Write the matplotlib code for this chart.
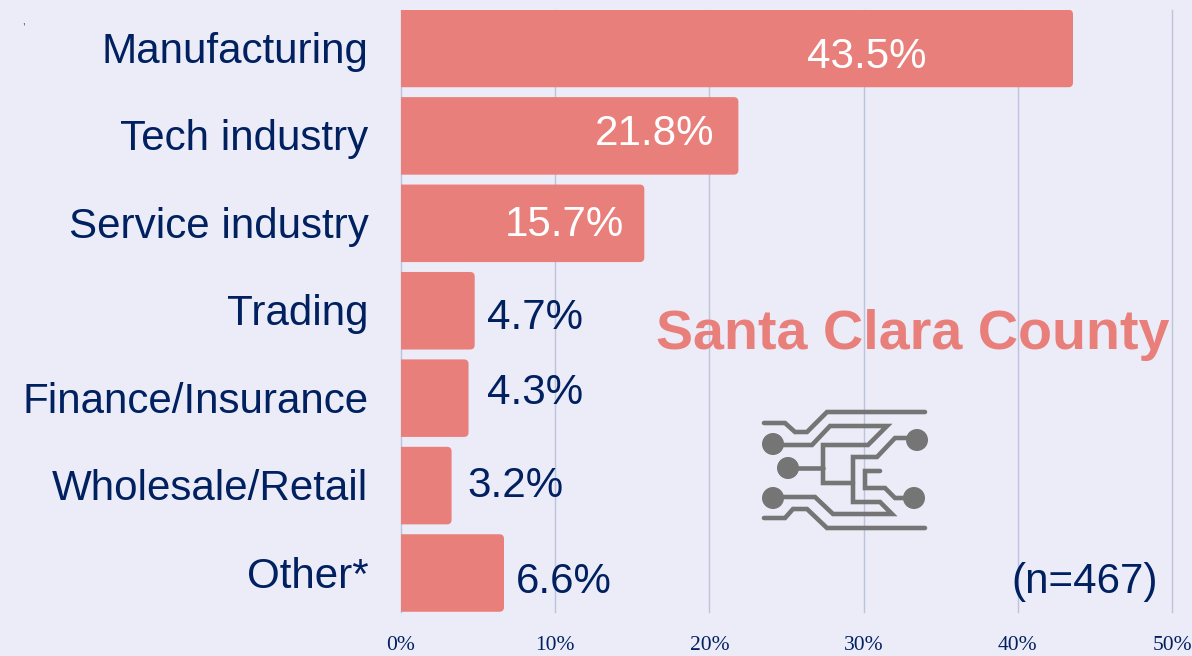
import matplotlib
matplotlib.use('Agg')
import matplotlib.pyplot as plt
from matplotlib.patches import FancyBboxPatch, Circle
from matplotlib.transforms import ScaledTranslation

# the data
categories = ['Manufacturing', 'Tech industry', 'Service industry', 'Trading',
              'Finance/Insurance', 'Wholesale/Retail', 'Other*']
values = [43.5, 21.8, 15.7, 4.7, 4.3, 3.2, 6.6]
value_labels = ['43.5%', '21.8%', '15.7%', '4.7%', '4.3%', '3.2%', '6.6%']
ticks = [0, 10, 20, 30, 40, 50]
tick_labels = ['0%', '10%', '20%', '30%', '40%', '50%']

bg = '#ECECF8'
bar_color = '#E97F7B'
navy = '#002060'
grey = '#757575'

plt.rcParams['font.family'] = 'Liberation Sans'

W, H = 1192, 656
fig = plt.figure(figsize=(W / 100, H / 100), dpi=100, facecolor=bg)
ax = fig.add_axes([401 / W, 1 - 612 / H, (1172 - 401) / W, (612 - 10) / H], facecolor=bg)

ax.set_xlim(0, 50)
ax.set_ylim(6.446, -0.44)
ax.grid(axis='x', color='#BEC3DC', linewidth=1, clip_on=False)
ax.set_axisbelow(True)

# rounded bars, they start left of the axes so only the right corners show
bar_height = 0.887
for i, v in enumerate(values):
    bar = FancyBboxPatch((-1, i - bar_height / 2), v + 1.08, bar_height,
                         boxstyle='round,pad=0,rounding_size=0.3',
                         mutation_aspect=0.1764, facecolor=bar_color,
                         edgecolor='none', zorder=2)
    ax.add_patch(bar)

for s in ax.spines.values():
    s.set_visible(False)
ax.tick_params(length=0)
ax.set_xticks(ticks)
ax.set_xticklabels(tick_labels, family='Liberation Serif', fontsize=15.5, color=navy)
ax.tick_params(axis='x', pad=17)
ax.set_yticks(range(len(categories)))
ax.set_yticklabels(categories, fontsize=30.3, color=navy)
ax.tick_params(axis='y', pad=23.4)
# category labels sit about a pixel higher than the bar centres
for lab in ax.get_yticklabels():
    lab.set_transform(lab.get_transform() + ScaledTranslation(0, 1 / 100, fig.dpi_scale_trans))

# value labels, placed by hand like the original
label_x = [30.2, 16.47, 10.57, 5.58, 5.58, 4.33, 7.46]
label_dy = [0.095, -0.025, 0.025, 0.085, -0.055, 0.005, 0.105]
label_colors = ['white', 'white', 'white', navy, navy, navy, navy]
for i, v in enumerate(value_labels):
    ax.text(label_x[i], i + label_dy[i], v, color=label_colors[i], fontsize=30.3,
            ha='center' if i < 3 else 'left', va='center', zorder=3)

fig.text(912.5 / W, 1 - 335 / H, 'Santa Clara County', color=bar_color, fontsize=40.1,
         fontweight='bold', ha='center', va='center')
fig.text(1085 / W, 1 - 582 / H, '(n=467)', color=navy, fontsize=30.3, ha='center', va='center')
fig.text(23.5 / W, 1 - 21 / H, ',', color=navy, fontsize=7, ha='center', va='center')

# circuit icon in pixels
icon = fig.add_axes([0, 0, 1, 1], facecolor='none')
icon.set_xlim(0, W)
icon.set_ylim(H, 0)
icon.axis('off')
paths = [
    [(764, 423), (785, 423), (795, 432), (807, 432), (827, 412), (925, 412)],
    [(773, 445), (812, 445), (830, 426), (887, 426), (868, 445), (823, 445), (823, 483), (853, 483)],
    [(788, 468), (823, 468)],
    [(917, 438), (895, 438), (877, 457), (853, 457), (853, 502), (880, 502), (892, 514),
     (833, 514), (815, 497), (773, 497)],
    [(880, 471), (865, 471), (865, 488), (885, 488), (895, 498), (913, 498)],
    [(764, 518), (785, 518), (793, 509), (807, 509), (827, 528), (925, 528)],
]
for p in paths:
    icon.plot([q[0] for q in p], [q[1] for q in p], color=grey, lw=3.3,
              solid_joinstyle='miter', solid_capstyle='round')
for c in [(773, 444), (788, 468), (773, 498), (917, 440), (914, 498)]:
    icon.add_patch(Circle(c, 10.3, color=grey))

fig.savefig('out.png', dpi=100, facecolor=bg)
